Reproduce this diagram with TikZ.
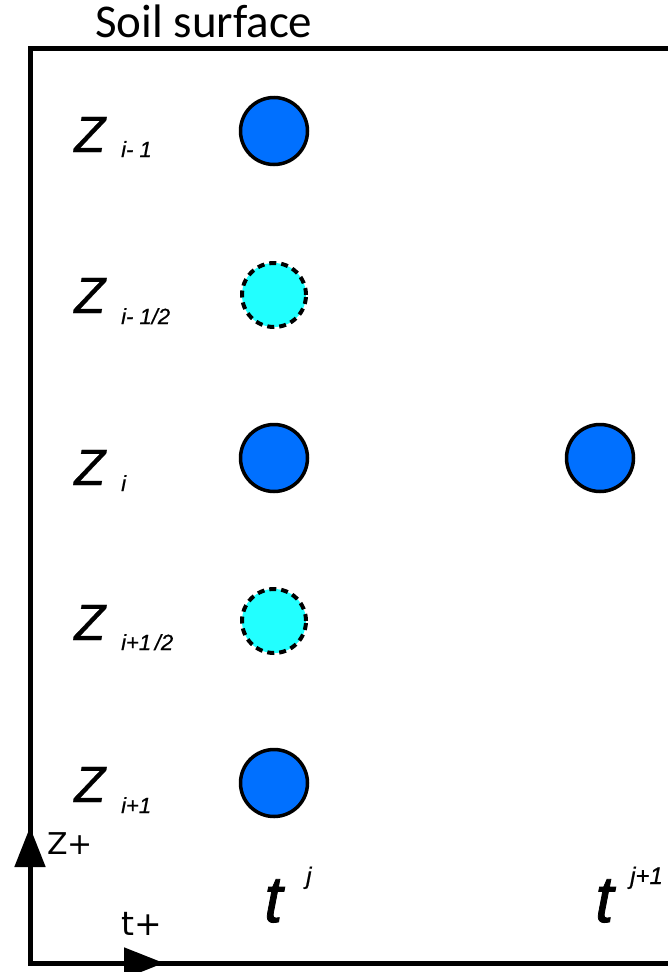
\documentclass[tikz,border=0pt]{standalone}
\usepackage{fontspec}
\setmainfont{Liberation Sans}
\newfontfamily\calfont{Carlito}
\newfontfamily\dvfont{DejaVu Sans}
\newfontface\tface{Liberation Sans Italic}[FakeBold=1.2]
\newfontface\zface{Liberation Sans Italic}[FakeBold=0.6]
\usetikzlibrary{arrows.meta}
\definecolor{nodeblue}{RGB}{0,112,255}
\definecolor{halfcyan}{RGB}{34,255,255}
\tikzset{
  frameline/.style={line width=5pt},
  fullnode/.style={circle, draw=black, line width=3.5pt, fill=nodeblue, minimum size=67pt, inner sep=0pt},
  halfnode/.style={circle, draw=black, line width=4pt, dash pattern=on 7pt off 5pt, fill=halfcyan, minimum size=64pt, inner sep=0pt},
  zlab/.style={anchor=base west, inner sep=0pt, font=\zface\fontsize{51}{51}\selectfont},
  zsub/.style={anchor=base west, inner sep=0pt, font=\zface\fontsize{22}{22}\selectfont},
  tlab/.style={anchor=base west, inner sep=0pt, font=\tface\fontsize{66}{66}\selectfont},
  tsup/.style={anchor=base west, inner sep=0pt, font=\zface\fontsize{24}{24}\selectfont},
  axlab/.style={anchor=base west, inner sep=0pt, font=\dvfont\fontsize{30}{30}\selectfont},
  axtip/.style={line width=5pt, -{Triangle[length=40pt,width=30pt]}}
}
\begin{document}
\begin{tikzpicture}[x=1pt,y=-1pt]
\useasboundingbox (0,0) rectangle (668,972);
% frame
\coordinate (tr) at (675,48);
\coordinate (tl) at (30,48);
\coordinate (bl) at (30,963);
\coordinate (br) at (675,963);
\draw[frameline] (tr) -- (tl) -- (bl) -- (br);
\coordinate (za) at (30,870);
\coordinate (zb) at (30,827);
\draw[axtip] (za) -- (zb);
\coordinate (ta) at (120,963);
\coordinate (tb) at (164,963);
\draw[axtip] (ta) -- (tb);
% title
\node[anchor=base west, inner sep=0pt, font=\calfont\fontsize{47}{47}\selectfont] (soil) at (95,37) {Soil surface};
% nodes
\node[fullnode] (n1) at (274,131) {};
\node[halfnode] (n2) at (274,295) {};
\node[fullnode] (n3) at (274,458) {};
\node[halfnode] (n4) at (274,621) {};
\node[fullnode] (n5) at (274,783) {};
\node[fullnode] (m3) at (600,458) {};
% Z labels
\node[zlab] (z1) at (74,152) {Z};
\node[zsub] (s1) at (121,157) {i- 1};
\node[zlab] (z2) at (74,313) {Z};
\node[zsub] (s2) at (121,324) {i- 1/2};
\node[zlab] (z3) at (74,485) {Z};
\node[zsub] (s3) at (121,491) {i};
\node[zlab] (z4) at (74,640) {Z};
\node[zsub] (s4) at (121,650) {i+1\,/2};
\node[zlab] (z5) at (74,802) {Z};
\node[zsub] (s5) at (121,813) {i+1};
% axis labels
\node[axlab] (zplus) at (47,854) {Z+};
\node[axlab, font=\dvfont\fontsize{33}{33}\selectfont] (tplus) at (121,935) {t+};
% time labels
\node[tlab] (t1) at (264,922) {t};
\node[tsup] (u1) at (306,884) {j};
\node[tlab] (t2) at (595,922) {t};
\node[tsup] (u2) at (630,884) {j+1};
\end{tikzpicture}
\end{document}
